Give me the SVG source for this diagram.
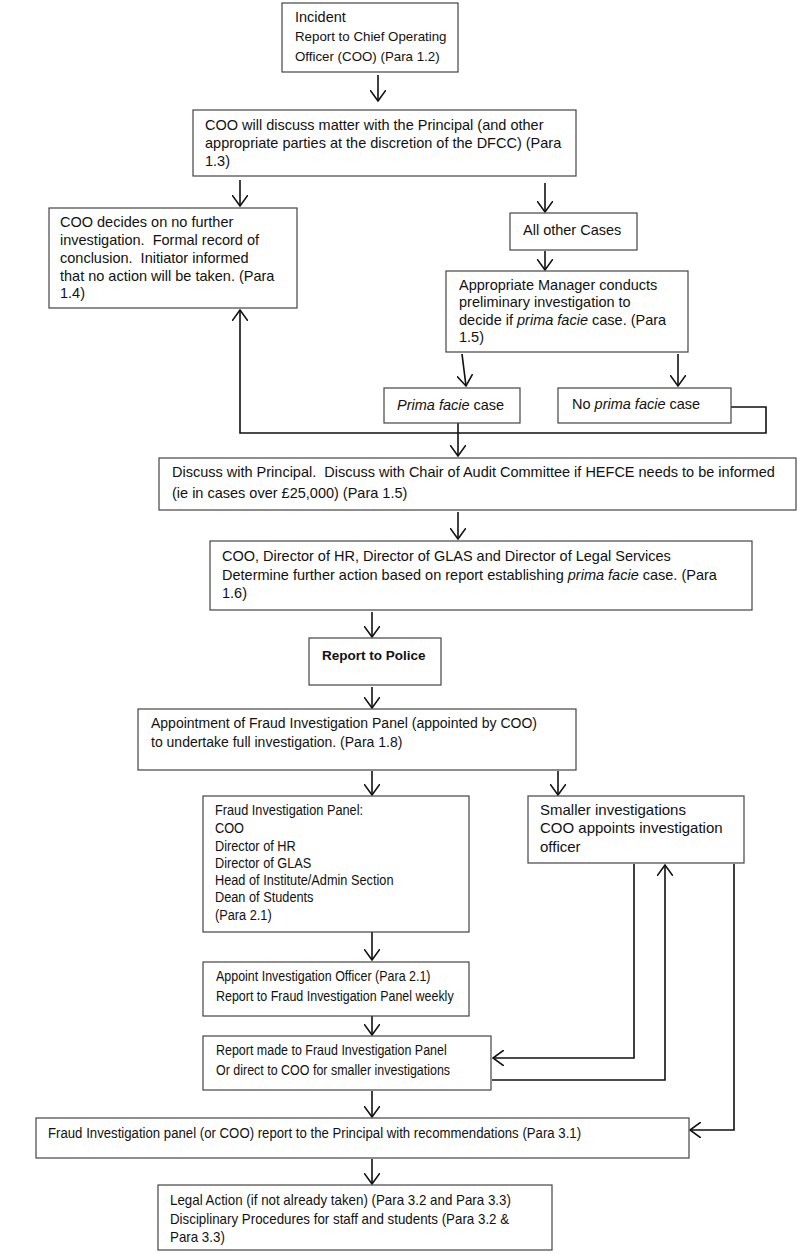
<svg xmlns="http://www.w3.org/2000/svg" width="800" height="1254" viewBox="0 0 800 1254">
<style>
.box{fill:#fff;stroke:#444;stroke-width:1.2}
text{font-family:"Liberation Sans",Arial,sans-serif;font-size:14.5px;fill:#111;white-space:pre}
.sm{font-size:13.3px}
.w{font-size:15px}
.it{font-style:italic}
.b{font-weight:bold;font-size:13.5px}
.ln{fill:none;stroke:#111;stroke-width:1.6}
.arr{marker-end:url(#ah)}
</style>
<defs>
<marker id="ah" viewBox="0 0 12 16" refX="11" refY="8" markerWidth="12" markerHeight="16" markerUnits="userSpaceOnUse" orient="auto">
<path d="M0,0 L11,8 L0,16" fill="none" stroke="#111" stroke-width="1.6"/>
</marker>
</defs>
<rect width="800" height="1254" fill="#fff"/>

<g id="connectors">
<line class="ln arr" x1="378" y1="75" x2="378" y2="101"/>
<line class="ln arr" x1="240" y1="180" x2="240" y2="206"/>
<line class="ln arr" x1="545" y1="183" x2="545" y2="212"/>
<line class="ln arr" x1="545" y1="251" x2="545" y2="270"/>
<line class="ln arr" x1="462" y1="354" x2="466" y2="386"/>
<line class="ln arr" x1="678" y1="354" x2="678" y2="386"/>
<polyline class="ln arr" points="731,407 766,407 766,433 240,433 240,310"/>
<line class="ln arr" x1="458" y1="423" x2="458" y2="456"/>
<line class="ln arr" x1="458" y1="512" x2="458" y2="539"/>
<line class="ln arr" x1="372" y1="612" x2="372" y2="637"/>
<line class="ln arr" x1="372" y1="687" x2="372" y2="708"/>
<line class="ln arr" x1="372" y1="771" x2="372" y2="795"/>
<line class="ln arr" x1="558" y1="771" x2="558" y2="795"/>
<line class="ln arr" x1="372" y1="932" x2="372" y2="960"/>
<line class="ln arr" x1="372" y1="1016" x2="372" y2="1035"/>
<polyline class="ln arr" points="634,864 634,1058 493,1058"/>
<polyline class="ln arr" points="492,1080 665,1080 665,865"/>
<polyline class="ln arr" points="734,864 734,1130 690,1130"/>
<line class="ln arr" x1="372" y1="1091" x2="372" y2="1117"/>
<line class="ln arr" x1="372" y1="1159" x2="372" y2="1184"/>
</g>

<g id="n-incident">
<rect class="box" x="282" y="3" width="176" height="69"/>
<text x="295" y="22">Incident</text>
<text class="sm" x="295" y="41">Report to Chief Operating</text>
<text class="sm" x="295" y="61">Officer (COO) (Para 1.2)</text>
</g>

<g id="n-discuss">
<rect class="box" x="193" y="110" width="383" height="66"/>
<text x="205" y="130">COO will discuss matter with the Principal (and other</text>
<text x="205" y="148">appropriate parties at the discretion of the DFCC) (Para</text>
<text x="205" y="166">1.3)</text>
</g>

<g id="n-nofurther">
<rect class="box" x="49" y="208" width="248" height="100"/>
<text x="60" y="227">COO decides on no further</text>
<text x="60" y="245">investigation.  Formal record of</text>
<text x="60" y="263">conclusion.  Initiator informed</text>
<text x="60" y="281">that no action will be taken. (Para</text>
<text x="60" y="298">1.4)</text>
</g>

<g id="n-othercases">
<rect class="box" x="510" y="213" width="127" height="37"/>
<text x="523" y="235">All other Cases</text>
</g>

<g id="n-manager">
<rect class="box" x="446" y="271" width="242" height="81"/>
<text x="459" y="290">Appropriate Manager conducts</text>
<text x="459" y="307">preliminary investigation to</text>
<text x="459" y="325">decide if <tspan class="it">prima facie</tspan> case. (Para</text>
<text x="459" y="342">1.5)</text>
</g>

<g id="n-prima">
<rect class="box" x="384" y="388" width="136" height="35"/>
<text x="397" y="410"><tspan class="it">Prima facie</tspan> case</text>
</g>

<g id="n-noprima">
<rect class="box" x="558" y="388" width="173" height="35"/>
<text x="572" y="409">No <tspan class="it">prima facie</tspan> case</text>
</g>

<g id="n-principal">
<rect class="box" x="159" y="458" width="637" height="52"/>
<text x="172" y="477">Discuss with Principal.  Discuss with Chair of Audit Committee if HEFCE needs to be informed</text>
<text x="172" y="498">(ie in cases over £25,000) (Para 1.5)</text>
</g>

<g id="n-determine">
<rect class="box" x="210" y="541" width="542" height="69"/>
<text x="222" y="561">COO, Director of HR, Director of GLAS and Director of Legal Services</text>
<text x="222" y="580">Determine further action based on report establishing <tspan class="it">prima facie</tspan> case. (Para</text>
<text x="222" y="598">1.6)</text>
</g>

<g id="n-police">
<rect class="box" x="309" y="638" width="132" height="47"/>
<text class="b" x="322" y="660">Report to Police</text>
</g>

<g id="n-appointment">
<rect class="box" x="138" y="709" width="438" height="61"/>
<text style="font-size:14px" x="151" y="728">Appointment of Fraud Investigation Panel (appointed by COO)</text>
<text style="font-size:14px" x="151" y="747">to undertake full investigation. (Para 1.8)</text>
</g>

<g id="n-panel">
<rect class="box" x="203" y="796" width="266" height="136"/>
<g transform="matrix(0.88,0,0,1,25.8,0)">
<text x="215" y="815">Fraud Investigation Panel:</text>
<text x="215" y="833">COO</text>
<text x="215" y="851">Director of HR</text>
<text x="215" y="868">Director of GLAS</text>
<text x="215" y="885">Head of Institute/Admin Section</text>
<text x="215" y="902">Dean of Students</text>
<text x="215" y="920">(Para 2.1)</text>
</g>
</g>

<g id="n-smaller">
<rect class="box" x="528" y="796" width="216" height="67"/>
<text class="w" x="540" y="815">Smaller investigations</text>
<text class="w" x="540" y="833">COO appoints investigation</text>
<text class="w" x="540" y="852">officer</text>
</g>

<g id="n-officer">
<rect class="box" x="203" y="962" width="266" height="54"/>
<g transform="matrix(0.86,0,0,1,30.24,0)">
<text x="216" y="981">Appoint Investigation Officer (Para 2.1)</text>
<text x="216" y="1001">Report to Fraud Investigation Panel weekly</text>
</g>
</g>

<g id="n-reportmade">
<rect class="box" x="203" y="1036" width="288" height="54"/>
<g transform="matrix(0.86,0,0,1,30.24,0)">
<text x="216" y="1055">Report made to Fraud Investigation Panel</text>
<text x="216" y="1075">Or direct to COO for smaller investigations</text>
</g>
</g>

<g id="n-recommend">
<rect class="box" x="36" y="1118" width="653" height="40"/>
<g transform="matrix(0.91,0,0,1,4.32,0)">
<text x="48" y="1138">Fraud Investigation panel (or COO) report to the Principal with recommendations (Para 3.1)</text>
</g>
</g>

<g id="n-legal">
<rect class="box" x="158" y="1185" width="394" height="65"/>
<g transform="matrix(0.92,0,0,1,13.6,0)">
<text x="170" y="1205">Legal Action (if not already taken) (Para 3.2 and Para 3.3)</text>
<text x="170" y="1224">Disciplinary Procedures for staff and students (Para 3.2 &amp;</text>
<text x="170" y="1242">Para 3.3)</text>
</g>
</g>
</svg>
